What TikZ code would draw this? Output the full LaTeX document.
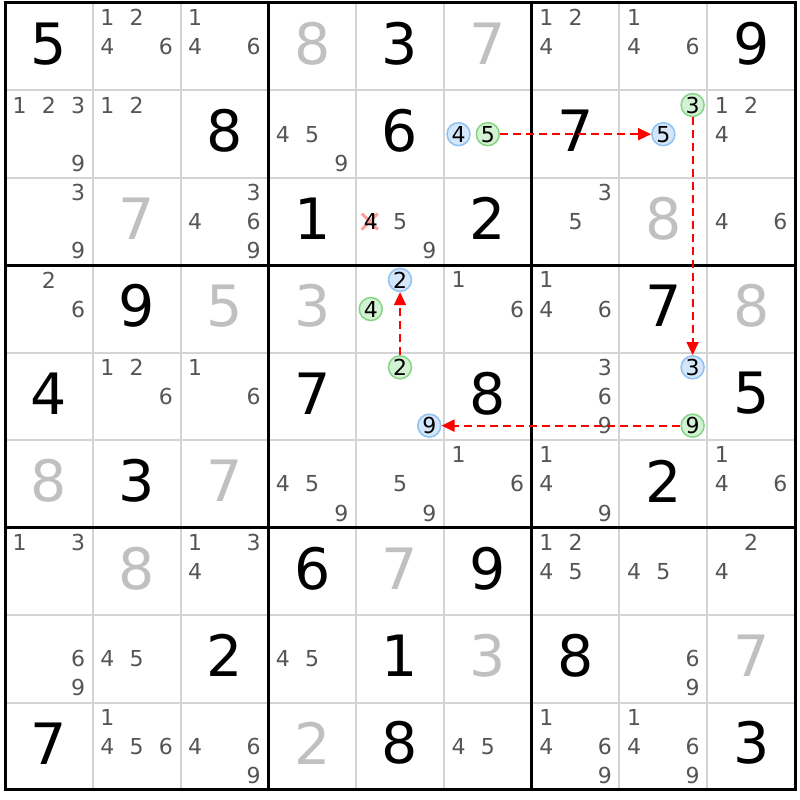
\documentclass[tikz,border=0pt]{standalone}
\usepackage{fontspec}
\setmainfont{DejaVu Sans}
\usetikzlibrary{arrows.meta}
\pgfdeclarelayer{background}
\pgfsetlayers{background,main}
\definecolor{candgray}{HTML}{555555}
\definecolor{givengray}{HTML}{C0C0C0}
\definecolor{thingrid}{HTML}{D4D4D4}
\definecolor{bluefill}{HTML}{D3E6FA}
\definecolor{bluedraw}{HTML}{8EC2F2}
\definecolor{greenfill}{HTML}{D3F1D3}
\definecolor{greendraw}{HTML}{84D684}
\definecolor{crosspink}{HTML}{FFA0A0}
\def\cw{87.78}
\def\ch{87.44}
\tikzset{
  bigd/.style={font=\fontsize{57}{60}\selectfont, inner sep=0pt, text=black},
  solved/.style={bigd, text=black},
  clued/.style={bigd, text=givengray},
  cand/.style={font=\fontsize{22}{23}\selectfont, inner sep=0pt, text=candgray},
  candblk/.style={cand, text=black},
  bluec/.style={cand, text=black, circle, minimum size=23pt, inner sep=0pt, fill=bluefill, draw=bluedraw, line width=1.5pt},
  greenc/.style={cand, text=black, circle, minimum size=23pt, inner sep=0pt, fill=greenfill, draw=greendraw, line width=1.5pt},
  arr/.style={draw=red, dash pattern=on 8pt off 5pt, line width=1.8pt, -{Triangle[length=13pt,width=12pt,fill=red]}},
  xmark/.style={draw=crosspink, line width=3pt},
  thinline/.style={draw=thingrid, line width=2pt},
  thickline/.style={draw=black, line width=3pt},
}
\newcommand\SD[4]{% row col digit style
  \pgfmathsetmacro\px{5+(#2-0.5)*\cw}%
  \pgfmathsetmacro\py{3+(#1-0.5)*\ch-3}%
  \node[#4] (g#1#2) at (\px,\py) {#3};}
\newcommand\CS[3]{% row col list
  \foreach \k in {#3}{%
    \pgfmathsetmacro\px{5+(#2-1)*\cw+(mod(\k-1,3)+0.5)*\cw/3}%
    \pgfmathsetmacro\py{3+(#1-1)*\ch+(floor((\k-1)/3)+0.5)*\ch/3}%
    \node[cand] (k#1#2\k) at (\px,\py) {\k};
  }}
\newcommand\MK[4]{% row col digit style
  \pgfmathsetmacro\px{5+(#2-1)*\cw+(mod(#3-1,3)+0.5)*\cw/3}%
  \pgfmathsetmacro\py{3+(#1-1)*\ch+(floor((#3-1)/3)+0.5)*\ch/3}%
  \node[#4] (k#1#2#3) at (\px,\py) {#3};}
\begin{document}
\begin{tikzpicture}[x=1pt,y=-1pt]
\useasboundingbox (0,0) rectangle (800,800);
\begin{pgfonlayer}{background}
\fill[white] (0,0) rectangle (800,800);
\end{pgfonlayer}
% grid
\foreach \i in {1,2,4,5,7,8}{
  \draw[thinline] (5+\i*\cw,3) -- (5+\i*\cw,3+9*\ch);
  \draw[thinline] (5,3+\i*\ch) -- (5+9*\cw,3+\i*\ch);
}
\foreach \i in {0,3,6,9}{
  \draw[thickline] (5+\i*\cw,3-1.5) -- (5+\i*\cw,3+9*\ch+1.5);
  \draw[thickline] (5-1.5,3+\i*\ch) -- (5+9*\cw+1.5,3+\i*\ch);
}
% row 1
\SD{1}{1}{5}{solved} \CS{1}{2}{1,2,4,6} \CS{1}{3}{1,4,6} \SD{1}{4}{8}{clued}
\SD{1}{5}{3}{solved} \SD{1}{6}{7}{clued} \CS{1}{7}{1,2,4} \CS{1}{8}{1,4,6} \SD{1}{9}{9}{solved}
% row 2
\CS{2}{1}{1,2,3,9} \CS{2}{2}{1,2} \SD{2}{3}{8}{solved} \CS{2}{4}{4,5,9} \SD{2}{5}{6}{solved}
\MK{2}{6}{4}{bluec} \MK{2}{6}{5}{greenc} \SD{2}{7}{7}{solved}
\MK{2}{8}{3}{greenc} \MK{2}{8}{5}{bluec} \CS{2}{9}{1,2,4}
% row 3
\CS{3}{1}{3,9} \SD{3}{2}{7}{clued} \CS{3}{3}{3,4,6,9} \SD{3}{4}{1}{solved}
\MK{3}{5}{4}{candblk} \CS{3}{5}{5,9} \SD{3}{6}{2}{solved} \CS{3}{7}{3,5} \SD{3}{8}{8}{clued} \CS{3}{9}{4,6}
% row 4
\CS{4}{1}{2,6} \SD{4}{2}{9}{solved} \SD{4}{3}{5}{clued} \SD{4}{4}{3}{clued}
\MK{4}{5}{2}{bluec} \MK{4}{5}{4}{greenc} \CS{4}{6}{1,6} \CS{4}{7}{1,4,6} \SD{4}{8}{7}{solved} \SD{4}{9}{8}{clued}
% row 5
\SD{5}{1}{4}{solved} \CS{5}{2}{1,2,6} \CS{5}{3}{1,6} \SD{5}{4}{7}{solved}
\MK{5}{5}{2}{greenc} \MK{5}{5}{9}{bluec} \SD{5}{6}{8}{solved} \CS{5}{7}{3,6,9}
\MK{5}{8}{3}{bluec} \MK{5}{8}{9}{greenc} \SD{5}{9}{5}{solved}
% row 6
\SD{6}{1}{8}{clued} \SD{6}{2}{3}{solved} \SD{6}{3}{7}{clued} \CS{6}{4}{4,5,9} \CS{6}{5}{5,9}
\CS{6}{6}{1,6} \CS{6}{7}{1,4,9} \SD{6}{8}{2}{solved} \CS{6}{9}{1,4,6}
% row 7
\CS{7}{1}{1,3} \SD{7}{2}{8}{clued} \CS{7}{3}{1,3,4} \SD{7}{4}{6}{solved} \SD{7}{5}{7}{clued}
\SD{7}{6}{9}{solved} \CS{7}{7}{1,2,4,5} \CS{7}{8}{4,5} \CS{7}{9}{2,4}
% row 8
\CS{8}{1}{6,9} \CS{8}{2}{4,5} \SD{8}{3}{2}{solved} \CS{8}{4}{4,5} \SD{8}{5}{1}{solved}
\SD{8}{6}{3}{clued} \SD{8}{7}{8}{solved} \CS{8}{8}{6,9} \SD{8}{9}{7}{clued}
% row 9
\SD{9}{1}{7}{solved} \CS{9}{2}{1,4,5,6} \CS{9}{3}{4,6,9} \SD{9}{4}{2}{clued} \SD{9}{5}{8}{solved}
\CS{9}{6}{4,5} \CS{9}{7}{1,4,6,9} \CS{9}{8}{1,4,6,9} \SD{9}{9}{3}{solved}
% elimination mark (behind the digit)
\begin{pgfonlayer}{background}
\draw[xmark] ([shift={(-9,-8)}]k354.center) -- ([shift={(7,8)}]k354.center);
\draw[xmark] ([shift={(-9,8)}]k354.center) -- ([shift={(7,-8)}]k354.center);
\end{pgfonlayer}
% chain
\draw[arr] (k265) -- (k285);
\draw[arr] (k283) -- (k583);
\draw[arr] (k589) -- (k559);
\draw[arr] (k552) -- (k452);
\end{tikzpicture}
\end{document}
